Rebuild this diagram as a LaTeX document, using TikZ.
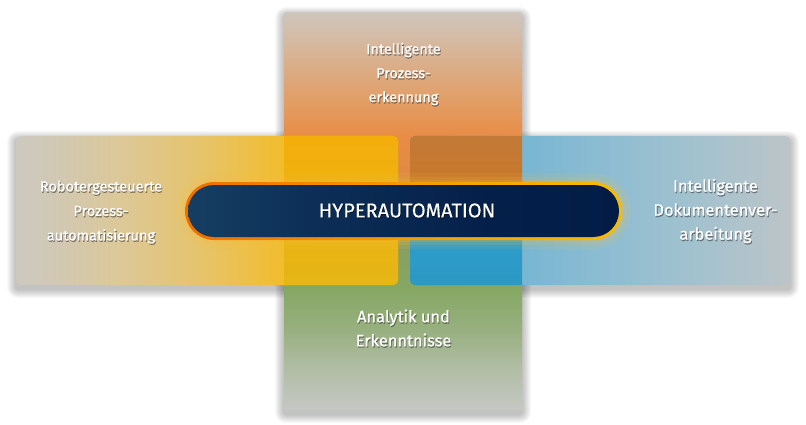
\documentclass[tikz,border=0pt]{standalone}
\usepackage{fontspec}
\setmainfont{Fira Sans}
\newfontfamily\lblfont[FakeBold=0.5]{Fira Sans}
\newfontfamily\hyfont[FakeBold=0.3]{Fira Sans}
\usetikzlibrary{shapes.misc}

\definecolor{vA}{HTML}{C6C8C4}
\definecolor{vB}{HTML}{B2BEA6}
\definecolor{vC}{HTML}{98B080}
\definecolor{vD}{HTML}{86A864}
\definecolor{vE}{HTML}{87A062}
\definecolor{vF}{HTML}{E08A42}
\definecolor{vG}{HTML}{E88C46}
\definecolor{vH}{HTML}{E29E66}
\definecolor{vI}{HTML}{D7B598}
\definecolor{vJ}{HTML}{CFC6BE}

\definecolor{lA}{HTML}{CDC9C0}
\definecolor{lB}{HTML}{D2C8B2}
\definecolor{lC}{HTML}{DCC898}
\definecolor{lD}{HTML}{E6C46C}
\definecolor{lE}{HTML}{F2BC2C}
\definecolor{lF}{HTML}{F6B810}
\definecolor{lG}{HTML}{F8B800}
\definecolor{liT}{HTML}{F4AE0C}
\definecolor{liB}{HTML}{E4B616}

\definecolor{rA}{HTML}{2A9CCC}
\definecolor{rB}{HTML}{78B6D2}
\definecolor{rC}{HTML}{8CBCD2}
\definecolor{rD}{HTML}{A4C2CE}
\definecolor{rE}{HTML}{BCC4C8}
\definecolor{riA}{HTML}{2C98C4}
\definecolor{riB}{HTML}{2E9CCA}
\definecolor{riM}{HTML}{7A8A7A}
\definecolor{riC}{HTML}{C8782A}
\definecolor{riD}{HTML}{C27A38}

\definecolor{pA}{HTML}{EE6E00}
\definecolor{pB}{HTML}{F59A00}
\definecolor{pC}{HTML}{F8BC00}
\definecolor{nA}{HTML}{163E62}
\definecolor{nB}{HTML}{0C2E56}
\definecolor{nC}{HTML}{04204A}
\definecolor{nD}{HTML}{021C46}
\definecolor{glow}{HTML}{F8C040}

\pgfdeclareverticalshading{vbar}{100bp}{color(0bp)=(vA); color(25bp)=(vA); color(30bp)=(vB); color(35bp)=(vC); color(40bp)=(vD); color(45bp)=(vE); color(54.5bp)=(vF); color(59.4bp)=(vG); color(63.9bp)=(vH); color(70.2bp)=(vI); color(75bp)=(vJ); color(100bp)=(vJ)}
\pgfdeclarehorizontalshading{lbar}{100bp}{color(0bp)=(lA); color(25bp)=(lA); color(30.8bp)=(lB); color(38.6bp)=(lC); color(49.1bp)=(lD); color(60.1bp)=(lE); color(66.1bp)=(lF); color(75bp)=(lG); color(100bp)=(lG)}
\pgfdeclareverticalshading{linner}{100bp}{color(0bp)=(liB); color(25bp)=(liB); color(75bp)=(liT); color(100bp)=(liT)}
\pgfdeclarehorizontalshading{rbar}{100bp}{color(0bp)=(rA); color(25bp)=(rA); color(39.7bp)=(rB); color(50bp)=(rC); color(63.2bp)=(rD); color(75bp)=(rE); color(100bp)=(rE)}
\pgfdeclareverticalshading{rinner}{100bp}{color(0bp)=(riA); color(25bp)=(riA); color(40bp)=(riB); color(50bp)=(riM); color(59bp)=(riC); color(75bp)=(riD); color(100bp)=(riD)}
\pgfdeclarehorizontalshading{pborder}{100bp}{color(0bp)=(pA); color(25bp)=(pA); color(50bp)=(pB); color(75bp)=(pC); color(100bp)=(pC)}
\pgfdeclarehorizontalshading{pnavy}{100bp}{color(0bp)=(nA); color(25bp)=(nA); color(40bp)=(nB); color(60bp)=(nC); color(75bp)=(nD); color(100bp)=(nD)}

% soft shadow: x1 y1 x2 y2
\newcommand\mysoftshadow[4]{%
  \foreach \i in {1,...,9}{%
    \fill[black, opacity=0.028, rounded corners={(\i+2)*1pt}]
      ({#1-\i},{#2-\i+4}) rectangle ({#3+\i},{#4+\i+4});
  }%
}

\tikzset{
  lbl/.style={text=white, align=center, inner sep=0pt},
  lblsh/.style={lbl, text=black!80, opacity=0.5},
  fsA/.style={font=\lblfont\fontsize{14.5}{24.5}\selectfont},
  fsB/.style={font=\lblfont\fontsize{14.4}{24}\selectfont},
  fsC/.style={font=\lblfont\fontsize{16.4}{24}\selectfont},
  fsD/.style={font=\lblfont\fontsize{16.4}{24}\selectfont},
}

\begin{document}
\begin{tikzpicture}[x=1pt, y=-1pt]
\fill[white] (0,0) rectangle (806,425);
\useasboundingbox (0,0) rectangle (806,425);

% shadows
\mysoftshadow{284}{12}{522}{410}
\mysoftshadow{16}{136}{398}{285}
\mysoftshadow{410}{136}{790}{285}

% vertical bar
\path[shading=vbar, rounded corners=2pt] (284,12) rectangle (522,410);

% left bar
\path[shading=lbar, rounded corners=5pt] (16,136) rectangle (398,285);
\begin{scope}
  \clip (284,130) rectangle (400,290);
  \path[shading=linner, rounded corners=5pt] (16,136) rectangle (398,285);
\end{scope}

% right bar
\path[shading=rbar, rounded corners=5pt] (410,136) rectangle (790,285);
\begin{scope}
  \clip (405,130) rectangle (522,290);
  \path[shading=rinner, rounded corners=5pt] (410,136) rectangle (790,285);
\end{scope}

% glow around pill
\fill[glow, opacity=0.10, rounded corners=38pt] (176,173) rectangle (631,249);
\fill[glow, opacity=0.12, rounded corners=34pt] (180,177) rectangle (627,245);
\fill[glow, opacity=0.15, rounded corners=31pt] (183,180) rectangle (624,242);

% pill
\node[rounded rectangle, shading=pborder, minimum width=437pt, minimum height=58pt, inner sep=0pt] (hyperborder) at (403.5,211) {};
\node[rounded rectangle, shading=pnavy, minimum width=431pt, minimum height=52pt, inner sep=0pt] (hyperinner) at (403.5,211) {};
\node[text=black, opacity=0.5, font=\hyfont\fontsize{20}{22}\selectfont, inner sep=0pt] (hypersh) at (407.7,211.4) {HYPERAUTOMATION};
\node[text=white, font=\hyfont\fontsize{20}{22}\selectfont, inner sep=0pt] (hyper) at (407,210.5) {HYPERAUTOMATION};

% labels
\node[lblsh, fsA] (rpash) at (101.8,213.4) {Robotergesteuerte\\Prozess-\\automatisierung};
\node[lbl, fsA] (rpa) at (101,212) {Robotergesteuerte\\Prozess-\\automatisierung};

\node[lblsh, fsB] (ipksh) at (404.3,75.4) {Intelligente\\Prozess-\\erkennung};
\node[lbl, fsB] (ipk) at (403.5,74) {Intelligente\\Prozess-\\erkennung};

\node[lblsh, fsC] (idvsh) at (716.3,212.4) {Intelligente\\Dokumentenver-\\arbeitung};
\node[lbl, fsC] (idv) at (715.5,211) {Intelligente\\Dokumentenver-\\arbeitung};

\node[lblsh, fsD] (anash) at (404.3,329.4) {Analytik und\\Erkenntnisse};
\node[lbl, fsD] (ana) at (403.5,328) {Analytik und\\Erkenntnisse};
\end{tikzpicture}
\end{document}
